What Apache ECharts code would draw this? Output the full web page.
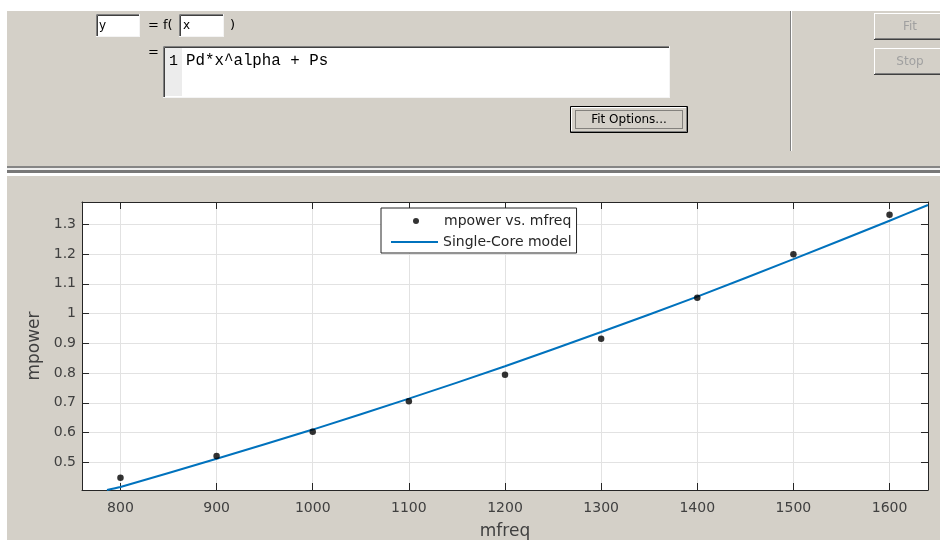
<!DOCTYPE html>
<html><head><meta charset="utf-8">
<script src="https://cdn.jsdelivr.net/npm/echarts@6/dist/echarts.min.js"></script>
<style>html,body{margin:0;padding:0;background:#d4d0c8}#c{width:940px;height:540px}</style>
</head><body><div id="c"></div>
<script>
// ---- data ----
const xTicks = [800, 900, 1000, 1100, 1200, 1300, 1400, 1500, 1600];
const yTicks = [0.5, 0.6, 0.7, 0.8, 0.9, 1.0, 1.1, 1.2, 1.3];
const mfreq = [800, 900, 1000, 1100, 1200, 1300, 1400, 1500, 1600];
const mpower = [0.448, 0.521, 0.603, 0.705, 0.794, 0.915, 1.053, 1.199, 1.332];
const fitFreq = [786, 800, 900, 1000, 1100, 1200, 1300, 1400, 1500, 1600, 1640];
const fitPower = [0.407, 0.417, 0.512, 0.610, 0.714, 0.823, 0.938, 1.057, 1.183, 1.312, 1.365];
const scatterName = 'mpower vs. mfreq';
const fitName = 'Single-Core model';
const xName = 'mfreq';
const yName = 'mpower';
const formulaY = 'y';
const formulaX = 'x';
const formulaText = 'Pd*x^alpha + Ps';

const FONT = 'DejaVu Sans';
const AX = '#262626';
const TXT = '#404040';
const GRIDC = '#e2e2e2';

function pairs(xs, ys) { return xs.map((x, i) => [x, ys[i]]); }

const g = [];
function rect(x, y, w, h, fill, extra) { g.push(Object.assign({type:'rect', shape:{x, y, width:w, height:h}, style:{fill}, silent:true}, extra || {})); }
function line(x1, y1, x2, y2, stroke, lw, dash) { g.push({type:'line', shape:{x1, y1, x2, y2}, style:{stroke, lineWidth: lw || 1, lineDash: dash || null}, silent:true}); }
function text(x, y, t, opts) { g.push({type:'text', x, y, silent:true, style:Object.assign({text:t, fill:'#000', font:'12px "DejaVu Sans"', verticalAlign:'middle', align:'left'}, opts || {})}); }

// white margins
rect(0, 0, 940, 11, '#fff');
rect(0, 0, 7, 540, '#fff');
// sunken edit box
function sunken(x, y, w, h) {
  rect(x, y, w, h, '#fff');
  line(x + 0.5, y + 0.5, x + w, y + 0.5, '#808080');
  line(x + 0.5, y + 0.5, x + 0.5, y + h, '#808080');
  line(x + 1.5, y + 1.5, x + w - 1, y + 1.5, '#404040');
  line(x + 1.5, y + 1.5, x + 1.5, y + h - 1, '#404040');
  line(x, y + h - 0.5, x + w, y + h - 0.5, '#f4f4f4');
  line(x + w - 0.5, y, x + w - 0.5, y + h, '#f4f4f4');
}
sunken(96, 14, 44, 23);
text(99, 26, formulaY, {font:'12px "DejaVu Sans"'});
text(148, 26, '= f(', {font:'13px "DejaVu Sans"'});
sunken(179, 14, 45, 23);
text(183, 26, formulaX, {font:'12px "DejaVu Sans"'});
text(230, 26, ')', {font:'13px "DejaVu Sans"'});
text(148, 53, '=', {font:'13px "DejaVu Sans"'});
// formula text area
sunken(163, 46, 507, 52);
rect(165, 48, 17, 48, '#ececec');
text(169, 61, '1', {font:'15px "Liberation Mono"'});
text(186, 61, formulaText, {font:'15.8px "Liberation Mono"'});
// Fit Options button
rect(570, 106, 118, 27, '#d4d0c8', {style:{fill:'#d4d0c8', stroke:'#000', lineWidth:1}, shape:{x:570.5, y:106.5, width:117, height:26}});
line(571.5, 107.5, 687, 107.5, '#fff');
line(571.5, 107.5, 571.5, 132, '#fff');
line(571, 131.5, 687, 131.5, '#808080');
line(686.5, 107, 686.5, 132, '#808080');
g.push({type:'rect', shape:{x:575.5, y:110.5, width:107, height:18}, style:{fill:null, stroke:'#333', lineWidth:1, lineDash:[1,1]}, silent:true});
text(629, 120, 'Fit Options...', {align:'center', font:'12px "DejaVu Sans"'});
// vertical separator
line(790.5, 11, 790.5, 151, '#808080');
line(791.5, 11, 791.5, 151, '#fff');
// Fit / Stop buttons
function button(y, label) {
  rect(874, y, 70, 27, '#d4d0c8');
  line(874, y + 0.5, 940, y + 0.5, '#fff');
  line(874.5, y, 874.5, y + 27, '#fff');
  line(874, y + 26.5, 940, y + 26.5, '#404040');
  line(875, y + 25.5, 940, y + 25.5, '#808080');
  text(910, y + 14, label, {align:'center', fill:'#a0a0a0', font:'12px "DejaVu Sans"', textShadowColor:'#fff', textShadowOffsetX:1, textShadowOffsetY:1, textShadowBlur:0});
}
button(13, 'Fit');
button(48, 'Stop');
// horizontal separator
rect(7, 166, 933, 2, '#858585');
rect(7, 168, 933, 2, '#eeeeee');
rect(7, 170, 933, 3, '#787878');
rect(7, 173, 933, 3, '#ffffff');

const chart = echarts.init(document.getElementById('c'), null, {renderer:'canvas'});
const axisCommon = {
  type:'value',
  axisLine:{show:true, onZero:false, lineStyle:{color:AX, width:1}},
  axisTick:{show:true, inside:true, length:7, lineStyle:{color:AX, width:1}},
};
chart.setOption({
  backgroundColor:'#d4d0c8',
  animation:false,
  grid:{left:82, right:12, top:202, bottom:50, show:true, backgroundColor:'#fff', borderWidth:0,
    containLabel:false, outerBoundsMode:'none'},
  xAxis:[
    Object.assign({}, axisCommon, {
      position:'bottom', min:760, max:1640,
      axisTick:Object.assign({}, axisCommon.axisTick, {customValues:xTicks}),
      axisLabel:{customValues:xTicks, fontSize:14, fontFamily:FONT, color:TXT, margin:11,
        formatter:v => String(v)},
      splitLine:{show:true, lineStyle:{color:GRIDC, width:1}},
      name:xName, nameLocation:'middle', nameGap:33,
      nameTextStyle:{fontSize:17, fontFamily:FONT, color:TXT}
    }),
    Object.assign({}, axisCommon, {
      position:'top', min:760, max:1640,
      axisTick:Object.assign({}, axisCommon.axisTick, {customValues:xTicks}),
      axisLabel:{show:false}, splitLine:{show:false}
    })
  ],
  yAxis:[
    Object.assign({}, axisCommon, {
      position:'left', min:0.4069, max:1.375,
      axisTick:Object.assign({}, axisCommon.axisTick, {customValues:yTicks}),
      axisLabel:{customValues:yTicks, fontSize:14, fontFamily:FONT, color:TXT, margin:6,
        formatter:v => String(Math.round(v * 10) / 10)},
      splitLine:{show:true, lineStyle:{color:GRIDC, width:1}},
      name:yName, nameLocation:'middle', nameGap:34,
      nameTextStyle:{fontSize:17, fontFamily:FONT, color:TXT}
    }),
    Object.assign({}, axisCommon, {
      position:'right', min:0.4069, max:1.375,
      axisTick:Object.assign({}, axisCommon.axisTick, {customValues:yTicks}),
      axisLabel:{show:false}, splitLine:{show:false}
    })
  ],
  legend:[
    {
      data:[{name:fitName, icon:'rect'}], left:381, top:208, orient:'vertical',
      itemWidth:47, itemHeight:2, itemGap:0, padding:[27, 5, 4, 10],
      backgroundColor:'#fff', borderColor:AX, borderWidth:1, borderRadius:0,
      selectedMode:false,
      itemStyle:{color:'#0072bd', borderWidth:0},
      textStyle:{fontSize:14, fontFamily:FONT, color:AX}
    },
    {
      data:[{name:scatterName, icon:'circle'}], left:413, top:214, orient:'vertical',
      itemWidth:6, itemHeight:6, padding:0, selectedMode:false,
      textStyle:{fontSize:14, fontFamily:FONT, color:AX, padding:[0, 0, 0, 20]}
    }
  ],
  graphic:{elements:g},
  series:[
    {
      name:fitName, type:'line', data:pairs(fitFreq, fitPower), smooth:0.3,
      symbol:'none', clip:true, xAxisIndex:0, yAxisIndex:0,
      lineStyle:{color:'#0072bd', width:2}, itemStyle:{color:'#0072bd'}, z:3
    },
    {
      name:scatterName, type:'scatter', data:pairs(mfreq, mpower),
      symbol:'circle', symbolSize:6.5, xAxisIndex:0, yAxisIndex:0,
      itemStyle:{color:'#000'}, z:4
    }
  ]
});
</script></body></html>
